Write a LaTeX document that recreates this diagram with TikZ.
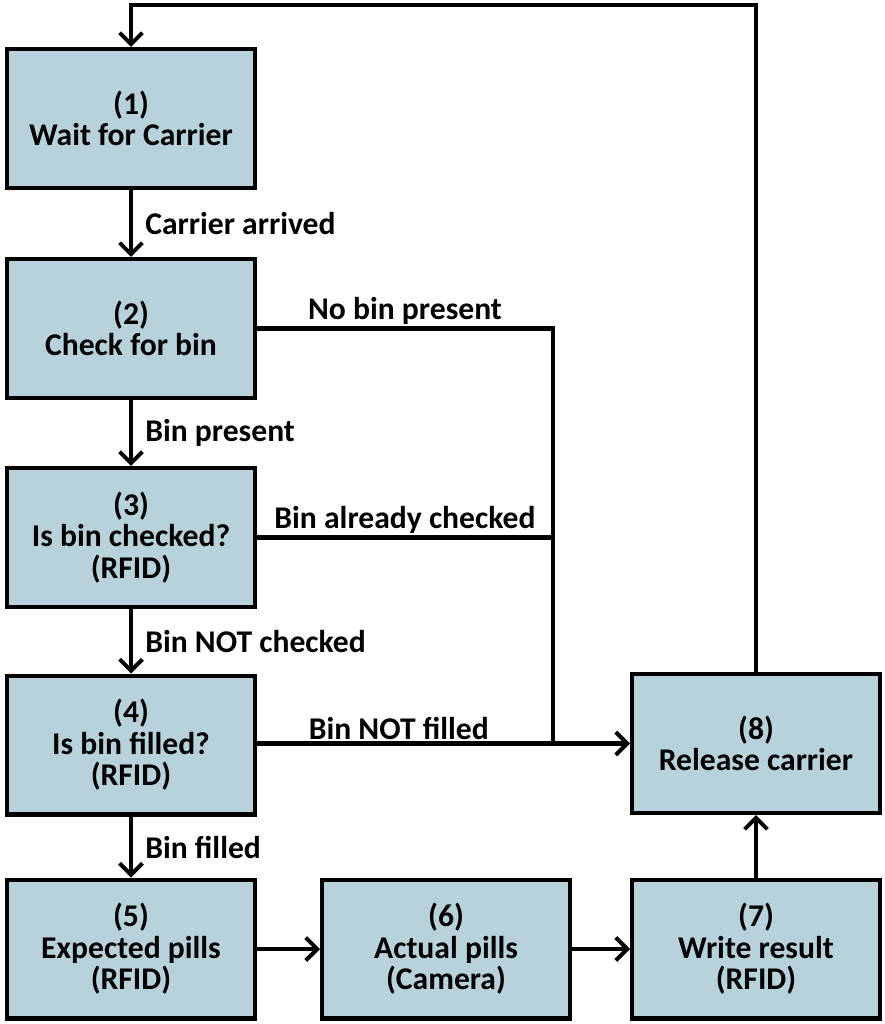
\documentclass[tikz,border=0pt]{standalone}
\usepackage{fontspec}
\setmainfont{Carlito}
\usepackage{xcolor}
\usepackage{tikz}
\usetikzlibrary{arrows.meta,positioning,calc}
\definecolor{boite}{RGB}{184,210,220}

\begin{document}
\begin{tikzpicture}[x=0.02cm,y=-0.02cm,line width=2.3pt,
    etat/.style={draw,fill=boite,minimum width=4.96cm,minimum height=2.78cm,
      align=center,font=\fontsize{18}{18}\selectfont\bfseries},
    lbl/.style={font=\fontsize{18}{18}\selectfont\bfseries,inner sep=1pt},
    fl/.style={-{Straight Barb[length=6.5pt,width=13pt]}}]
      \useasboundingbox (0,0) rectangle (885,1024);
      % etats
      \foreach \n/\x/\y/\t in {1/131/118.5/{(1)\\Wait for Carrier},
          2/131/328.5/{(2)\\Check for bin},
          3/131/537.5/{(3)\\Is bin checked?\\(RFID)},
          4/131/745/{(4)\\Is bin filled?\\(RFID)},
          5/131/949/{(5)\\Expected pills\\(RFID)},
          6/446/949/{(6)\\Actual pills\\(Camera)},
          7/756/949/{(7)\\Write result\\(RFID)},
          8/756/743.5/{(8)\\Release carrier}}{
        \node[etat] (b\n) at (\x,\y) {\t};}
      % chemin principal
      \foreach \a/\b/\t in {1/2/Carrier arrived,2/3/Bin present,
          3/4/Bin NOT checked,4/5/Bin filled}{
        \draw[fl] (b\a) -- node[lbl,right=6pt]{\t} (b\b);}
      \draw[fl] (b5) -- (b6);
      \draw[fl] (b6) -- (b7);
      \draw[fl] (b7) -- (b8);
      % sorties vers (8)
      \coordinate (rail) at (553,743.5);
      \draw (b2.east) -- node[lbl,above]{No bin present} (b2.east -| rail) -- (rail);
      \draw (b3.east) -- node[lbl,above]{Bin already checked} (b3.east -| rail);
      \draw[fl] (b4.east |- rail) -- node[lbl,above,pos=0.38]{Bin NOT filled} (b8.west);
      % retour
      \coordinate (haut) at (131,5);
      \draw[fl] (b8.north) |- (haut) -- (b1.north);
    \end{tikzpicture}
\end{document}
